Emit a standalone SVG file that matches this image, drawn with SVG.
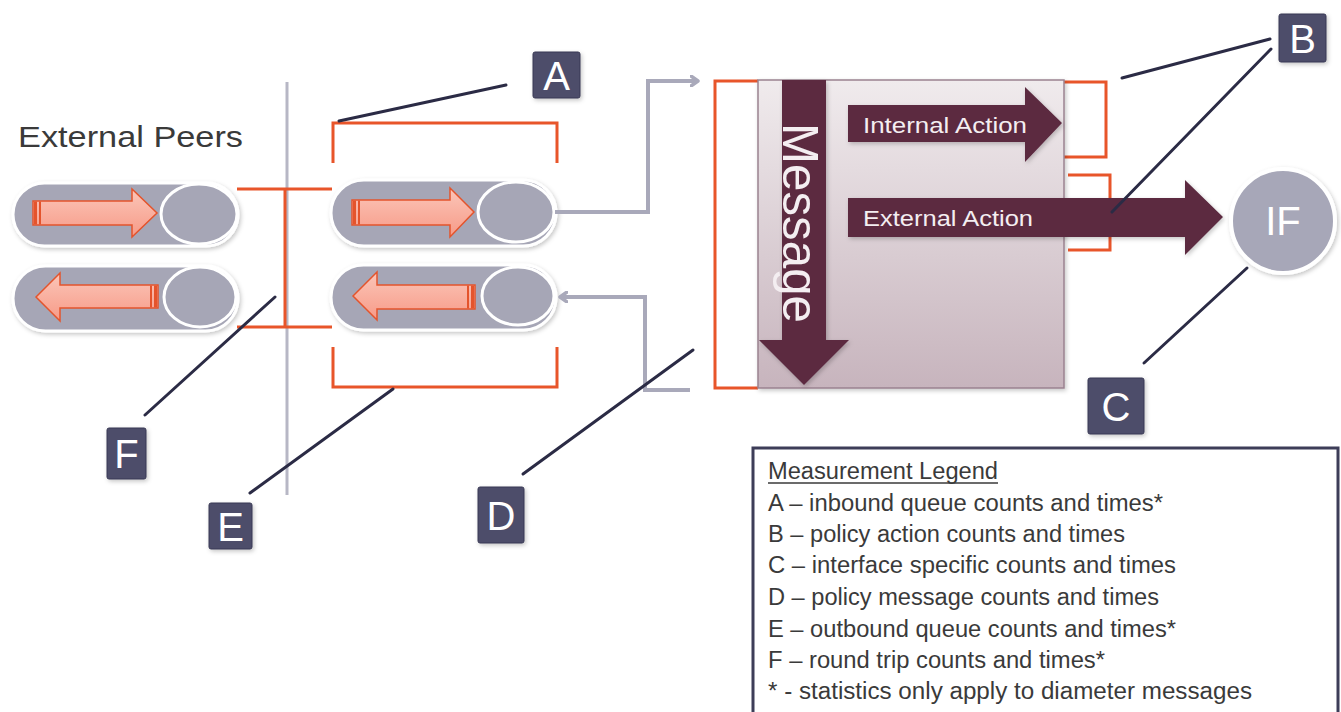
<svg xmlns="http://www.w3.org/2000/svg" width="1341" height="712" viewBox="0 0 1341 712">
<style>
.pill{fill:#a6a6b6;stroke:#ffffff;stroke-width:3;filter:url(#sh)}
.knob{fill:#a6a6b6;stroke:#ffffff;stroke-width:3}
.sal{fill:url(#salg);stroke:#e4542c;stroke-width:1.5}
.stripe{fill:#e4542c}
.or{fill:none;stroke:#e8552a;stroke-width:3;stroke-linejoin:miter}
.gc{fill:none;stroke:#a9a9ba;stroke-width:4}
.lead{fill:none;stroke:#2b2b45;stroke-width:3;stroke-linecap:round}
.lbl{fill:#4d4d6a;stroke:#3a3a55;stroke-width:1;filter:url(#sh)}
.lt{font-family:"Liberation Sans",Arial,sans-serif;font-size:40px;fill:#ffffff;text-anchor:middle}
.plum{fill:#5b2a40;filter:url(#sh)}
.wt{font-family:"Liberation Sans",Arial,sans-serif;fill:#f4eef1}
.leg{font-family:"Liberation Sans",Arial,sans-serif;font-size:23px;fill:#3a3a3a}
</style>
<defs>
<filter id="sh" x="-20%" y="-20%" width="140%" height="140%">
<feDropShadow dx="1.5" dy="2" stdDeviation="2" flood-color="#000" flood-opacity="0.22"/>
</filter>
<linearGradient id="salg" x1="0" y1="0" x2="0" y2="1">
<stop offset="0" stop-color="#fbc6b9"/>
<stop offset="1" stop-color="#f79a87"/>
</linearGradient>
<linearGradient id="boxg" x1="0" y1="0" x2="0" y2="1">
<stop offset="0" stop-color="#f0ebed"/>
<stop offset="1" stop-color="#c7b4bd"/>
</linearGradient>
<marker id="chev" markerWidth="10" markerHeight="12" refX="8" refY="6" orient="auto" markerUnits="userSpaceOnUse" viewBox="0 0 10 12">
<path d="M1,1 L8,6 L1,11" fill="none" stroke="#a9a9ba" stroke-width="3.5" stroke-linecap="round" stroke-linejoin="round"/>
</marker>
</defs>

<rect x="0" y="0" width="1341" height="712" fill="#ffffff"/>

<g id="title">
<text x="18" y="147" font-family="Liberation Sans,Arial,sans-serif" font-size="30" fill="#3a3a3a" textLength="225" lengthAdjust="spacingAndGlyphs">External  Peers</text>
</g>

<g id="divider">
<line x1="287" y1="82" x2="287" y2="495" stroke="#b7b7c5" stroke-width="3"/>
</g>

<g id="peer-out">
<rect class="pill" x="13" y="183" width="225" height="63" rx="31.5"/>
<ellipse class="knob" cx="199" cy="214" rx="38" ry="30"/>
<polygon class="sal" points="33,201 132,201 132,189 157,213 132,237 132,225 33,225"/>
<rect class="stripe" x="34" y="201.5" width="3" height="23"/>
<rect class="stripe" x="39" y="201.5" width="2" height="23"/>
</g>

<g id="peer-in">
<rect class="pill" x="13" y="266" width="225" height="65" rx="32.5"/>
<ellipse class="knob" cx="200" cy="297" rx="36" ry="30"/>
<polygon class="sal" points="36,297 60,273 60,285 158,285 158,308 60,308 60,321"/>
<rect class="stripe" x="154" y="285.5" width="3" height="22"/>
<rect class="stripe" x="150" y="285.5" width="2" height="22"/>
</g>

<g id="queue-in">
<rect class="pill" x="331" y="180" width="225" height="66" rx="33"/>
<ellipse class="knob" cx="516" cy="212" rx="38" ry="30"/>
<polygon class="sal" points="352,200 450,200 450,188 474,212 450,237 450,225 352,225"/>
<rect class="stripe" x="353" y="200.5" width="3" height="24"/>
<rect class="stripe" x="358" y="200.5" width="2" height="24"/>
</g>

<g id="queue-out">
<rect class="pill" x="331" y="265" width="225" height="65" rx="32.5"/>
<ellipse class="knob" cx="518" cy="296" rx="36" ry="29"/>
<polygon class="sal" points="353,296 377,272 377,285 475,285 475,309 377,309 377,320"/>
<rect class="stripe" x="471" y="285.5" width="3" height="23"/>
<rect class="stripe" x="467" y="285.5" width="2" height="23"/>
</g>

<g id="brackets">
<path class="or" d="M333,163 V123 H557 V163"/>
<path class="or" d="M333,347 V387 H557 V347"/>
<path class="or" d="M237,189 H332 M285,189 V327 M237,327 H332"/>
<path class="or" d="M758,81 H715 V388 H758"/>
<path class="or" d="M1064,82 H1106 V157 H1064"/>
<path class="or" d="M1068,175 H1110 V250 H1068"/>
</g>

<g id="connectors">
<path class="gc" d="M555,212 H648 V81 H698" marker-end="url(#chev)"/>
<path class="gc" d="M690,390 H645 V297 H560" marker-end="url(#chev)"/>
</g>

<g id="policy">
<rect x="758" y="80" width="306" height="308" fill="url(#boxg)" stroke="#9a8290" stroke-width="1.5" filter="url(#sh)"/>
<polygon class="plum" points="782,80 826,80 826,340 849,340 804,385 759,340 782,340"/>
<text class="wt" transform="translate(783,123) rotate(90)" x="0" y="0" font-size="50" textLength="200" lengthAdjust="spacingAndGlyphs">Message</text>
<polygon class="plum" points="848,105 1025,105 1025,87 1062,123 1025,162 1025,142 848,142"/>
<text class="wt" x="863" y="133" font-size="22" textLength="164" lengthAdjust="spacingAndGlyphs">Internal Action</text>
<polygon class="plum" points="848,198 1185,198 1185,180 1223,217 1185,255 1185,237 848,237"/>
<text class="wt" x="863" y="226" font-size="22" textLength="170" lengthAdjust="spacingAndGlyphs">External Action</text>
</g>

<g id="if">
<circle cx="1283" cy="221" r="52" fill="#a7a7b8" stroke="#ffffff" stroke-width="4" filter="url(#sh)"/>
<text class="lt" x="1283" y="235">IF</text>
</g>

<g id="leaders">
<line class="lead" x1="339" y1="121" x2="506" y2="85"/>
<line class="lead" x1="1122" y1="78" x2="1270" y2="39"/>
<line class="lead" x1="1112" y1="212" x2="1271" y2="49"/>
<line class="lead" x1="1247" y1="268" x2="1144" y2="363"/>
<line class="lead" x1="145" y1="415" x2="275" y2="297"/>
<line class="lead" x1="250" y1="493" x2="393" y2="389"/>
<line class="lead" x1="523" y1="474" x2="693" y2="350"/>
</g>

<g id="label-A">
<rect class="lbl" x="533" y="52" width="47" height="46" rx="2"/>
<text class="lt" x="556.5" y="90">A</text>
</g>
<g id="label-B">
<rect class="lbl" x="1279" y="14" width="47" height="48" rx="2"/>
<text class="lt" x="1302.5" y="53">B</text>
</g>
<g id="label-C">
<rect class="lbl" x="1088" y="378" width="56" height="56" rx="2"/>
<text class="lt" x="1116" y="421">C</text>
</g>
<g id="label-D">
<rect class="lbl" x="478" y="487" width="46" height="56" rx="2"/>
<text class="lt" x="501" y="530">D</text>
</g>
<g id="label-E">
<rect class="lbl" x="209" y="503" width="43" height="46" rx="2"/>
<text class="lt" x="230.5" y="541">E</text>
</g>
<g id="label-F">
<rect class="lbl" x="107" y="428" width="39" height="51" rx="2"/>
<text class="lt" x="126.5" y="468">F</text>
</g>

<g id="legend">
<rect x="753" y="448" width="585" height="275" fill="#ffffff" stroke="#3d3d58" stroke-width="3"/>
<text class="leg" x="768" y="479" textLength="230" lengthAdjust="spacingAndGlyphs">Measurement Legend</text>
<line x1="768" y1="483" x2="998" y2="483" stroke="#3a3a3a" stroke-width="1.5"/>
<text class="leg" x="768" y="511" textLength="395" lengthAdjust="spacingAndGlyphs">A – inbound queue  counts and times*</text>
<text class="leg" x="768" y="542" textLength="357" lengthAdjust="spacingAndGlyphs">B – policy action counts and times</text>
<text class="leg" x="768" y="573" textLength="408" lengthAdjust="spacingAndGlyphs">C –  interface specific counts and times</text>
<text class="leg" x="768" y="605" textLength="391" lengthAdjust="spacingAndGlyphs">D – policy message counts and times</text>
<text class="leg" x="768" y="637" textLength="408" lengthAdjust="spacingAndGlyphs">E – outbound queue  counts and times*</text>
<text class="leg" x="768" y="668" textLength="337" lengthAdjust="spacingAndGlyphs">F – round trip counts and times*</text>
<text class="leg" x="768" y="699" textLength="484" lengthAdjust="spacingAndGlyphs">* - statistics only apply to diameter messages</text>
</g>
</svg>
